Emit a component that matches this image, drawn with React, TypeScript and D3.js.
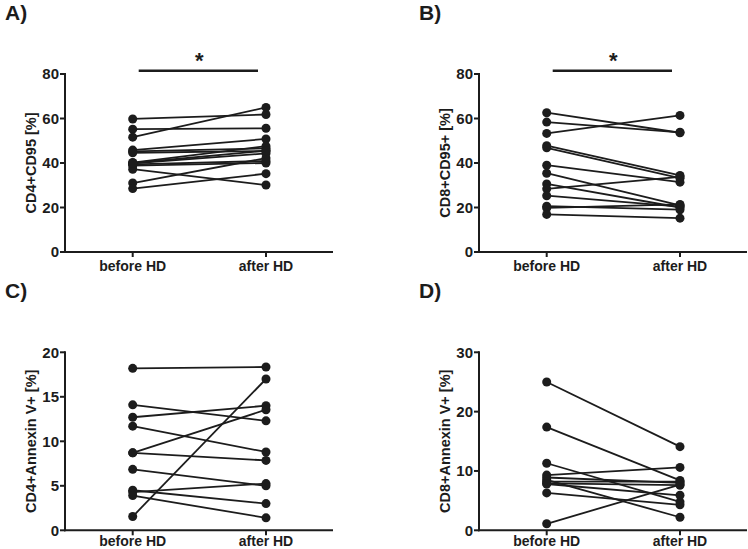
import React from "react";
import * as d3 from "d3";

const categories = ["before HD", "after HD"];

// Panel A: CD4+CD95 [%]
const cd4Cd95Before = [59.8, 55.2, 51.6, 45.8, 45.2, 44.6, 40.2, 39.8, 39.4, 38.8, 37.2, 31.0, 28.5, 40.0];
const cd4Cd95After = [61.8, 55.6, 65.0, 50.8, 46.6, 45.4, 47.6, 44.3, 40.9, 40.0, 30.1, 42.2, 35.2, 45.5];

// Panel B: CD8+CD95+ [%]
const cd8Cd95Before = [62.6, 58.4, 53.3, 47.8, 46.8, 39.0, 35.4, 30.6, 28.4, 25.3, 20.6, 19.8, 16.9];
const cd8Cd95After = [53.6, 53.8, 61.4, 34.4, 33.2, 31.4, 21.0, 20.0, 33.8, 20.4, 19.0, 21.4, 15.2];

// Panel C: CD4+Annexin V+ [%]
const cd4AnnexBefore = [18.2, 14.1, 12.7, 11.7, 8.7, 8.7, 6.85, 4.5, 4.3, 3.9, 1.55];
const cd4AnnexAfter = [18.35, 12.3, 14.0, 8.8, 13.55, 7.85, 5.0, 3.0, 5.25, 1.4, 17.0];

// Panel D: CD8+Annexin V+ [%]
const cd8AnnexBefore = [25.0, 17.4, 11.3, 9.3, 8.9, 8.5, 8.2, 7.9, 7.8, 6.3, 1.1];
const cd8AnnexAfter = [14.1, 8.4, 4.8, 10.6, 8.0, 2.2, 8.2, 7.6, 5.9, 4.3, 7.7];

const ticksA = [0, 20, 40, 60, 80];
const ticksC = [0, 5, 10, 15, 20];
const ticksD = [0, 10, 20, 30];

const INK = "#1c1c1c";
const FONT = "'Liberation Sans', Arial, sans-serif";

interface PanelProps {
  letter: string;
  label: string;
  before: number[];
  after: number[];
  ticks: number[];
  left: number;
  top: number;
  star: boolean;
  catDy: number;
}

const Panel: React.FC<PanelProps> = ({ letter, label, before, after, ticks, left, top, star, catDy }) => {
  const axisX = left + 65;
  const axisRight = left + 333;
  const y0 = top + 252;
  const y1 = top + 74;
  const yMax = ticks[ticks.length - 1];

  const y = d3.scaleLinear().domain([0, yMax]).range([y0, y1]);
  const x = d3
    .scalePoint<string>()
    .domain(categories)
    .range([left + 132.7, left + 266]);

  const xb = x(categories[0])!;
  const xa = x(categories[1])!;

  return (
    <g>
      <text x={left + 5} y={top + 20} fontSize={21} fontWeight="bold" fill={INK} fontFamily={FONT}>
        {letter}
      </text>

      {star && (
        <g>
          <line x1={xb + 6} x2={xa - 8} y1={top + 70.7} y2={top + 70.7} stroke={INK} strokeWidth={2.5} />
          <text
            x={(xb + xa) / 2}
            y={top + 68}
            textAnchor="middle"
            fontSize={22}
            fontWeight="bold"
            fill={INK}
            fontFamily={FONT}
          >
            *
          </text>
        </g>
      )}

      {/* axes */}
      <line x1={axisX} x2={axisX} y1={y1 - 1} y2={y0 + 1} stroke={INK} strokeWidth={2} />
      <line x1={axisX - 1} x2={axisRight} y1={y0} y2={y0} stroke={INK} strokeWidth={2} />
      {ticks.map((t) => (
        <g key={t}>
          <line x1={axisX - 5} x2={axisX} y1={y(t)} y2={y(t)} stroke={INK} strokeWidth={2} />
          <text
            x={axisX - 6}
            y={y(t)}
            dy="0.35em"
            textAnchor="end"
            fontSize={15}
            fontWeight="bold"
            fill={INK}
            fontFamily={FONT}
          >
            {t}
          </text>
        </g>
      ))}
      {categories.map((c) => (
        <g key={c}>
          <line x1={x(c)} x2={x(c)} y1={y0} y2={y0 + 5} stroke={INK} strokeWidth={2} />
          <text
            x={x(c)}
            y={y0 + catDy}
            textAnchor="middle"
            fontSize={14}
            fontWeight="bold"
            fill={INK}
            fontFamily={FONT}
          >
            {c}
          </text>
        </g>
      ))}
      <text
        transform={`translate(${left + 36},${(y0 + y1) / 2}) rotate(-90)`}
        textAnchor="middle"
        fontSize={14.5}
        fontWeight="bold"
        fill={INK}
        fontFamily={FONT}
      >
        {label}
      </text>

      {/* paired lines */}
      {before.map((b, i) => (
        <line
          key={`l${i}`}
          x1={xb}
          x2={xa}
          y1={y(b)}
          y2={y(after[i])}
          stroke={INK}
          strokeWidth={1.8}
        />
      ))}
      {before.map((b, i) => (
        <g key={`p${i}`}>
          <circle cx={xb} cy={y(b)} r={4.5} fill={INK} />
          <circle cx={xa} cy={y(after[i])} r={4.5} fill={INK} />
        </g>
      ))}
    </g>
  );
};

export default function App() {
  return (
    <svg
      width={748}
      height={549}
      style={{ position: "absolute", left: 0, top: 0, background: "#fff" }}
    >
      <Panel letter="A)" label="CD4+CD95 [%]" before={cd4Cd95Before} after={cd4Cd95After} ticks={ticksA} left={0} top={0} star catDy={19} />
      <Panel letter="B)" label="CD8+CD95+ [%]" before={cd8Cd95Before} after={cd8Cd95After} ticks={ticksA} left={414} top={0} star catDy={19} />
      <Panel letter="C)" label="CD4+Annexin V+ [%]" before={cd4AnnexBefore} after={cd4AnnexAfter} ticks={ticksC} left={0} top={278.3} star={false} catDy={16} />
      <Panel letter="D)" label="CD8+Annexin V+ [%]" before={cd8AnnexBefore} after={cd8AnnexAfter} ticks={ticksD} left={414} top={278.3} star={false} catDy={16} />
    </svg>
  );
}
